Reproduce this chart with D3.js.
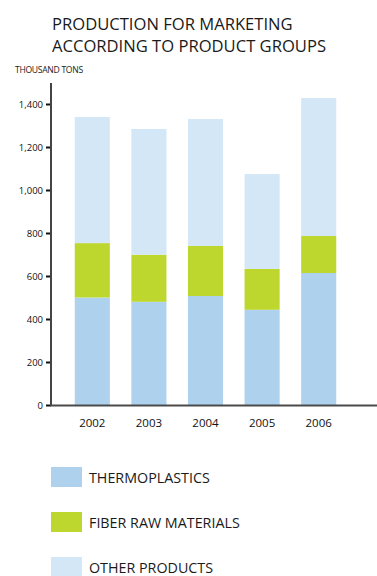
<!DOCTYPE html>
<html>
<head>
<meta charset="utf-8">
<script src="https://cdn.jsdelivr.net/npm/d3@7"></script>
<style>
  body { margin: 0; background: #fff; }
  svg { display: block; font-family: "Open Sans", "Noto Sans", sans-serif; }
</style>
</head>
<body>
<svg width="377" height="576"></svg>
<script>
const years = ["2002", "2003", "2004", "2005", "2006"];
const thermoplastics = [500, 480, 507, 443, 614];
const fiberRaw = [253, 219, 233, 190, 172];
const otherProducts = [587, 585, 590, 441, 642];
const yTicks = [0, 200, 400, 600, 800, 1000, 1200, 1400];

const seriesNames = ["THERMOPLASTICS", "FIBER RAW MATERIALS", "OTHER PRODUCTS"];
const colors = ["#aed1ee", "#bed72e", "#d4e7f6"];

const svg = d3.select("svg");

// title
svg.append("text").attr("x", 52).attr("y", 30)
  .attr("font-size", 16.6).attr("fill", "#1a1a1a")
  .text("PRODUCTION FOR MARKETING");
svg.append("text").attr("x", 52).attr("y", 52)
  .attr("font-size", 16.6).attr("fill", "#1a1a1a")
  .text("ACCORDING TO PRODUCT GROUPS");

svg.append("text").attr("x", 15).attr("y", 73)
  .attr("font-size", 8.6).attr("letter-spacing", -0.3).attr("fill", "#1a1a1a")
  .text("THOUSAND TONS");

const x = d3.scaleBand().domain(years).range([64, 347]).paddingInner(0.38).paddingOuter(0.19);
const y = d3.scaleLinear().domain([0, 1400]).range([405, 104]);

const rows = years.map((yr, i) => ({
  year: yr,
  thermo: thermoplastics[i],
  fiber: fiberRaw[i],
  other: otherProducts[i]
}));
const stack = d3.stack().keys(["thermo", "fiber", "other"])(rows);

svg.append("g").selectAll("g")
  .data(stack)
  .join("g")
  .attr("fill", (d, i) => colors[i])
  .selectAll("rect")
  .data(d => d)
  .join("rect")
  .attr("x", d => x(d.data.year))
  .attr("width", x.bandwidth())
  .attr("y", d => y(d[1]))
  .attr("height", d => y(d[0]) - y(d[1]));

// y axis
const yAxis = svg.append("g")
  .attr("transform", "translate(51,0)")
  .call(d3.axisLeft(y).tickValues(yTicks).tickSize(5).tickPadding(3)
    .tickFormat(d3.format(",")));
yAxis.select(".domain").remove();
yAxis.selectAll(".tick line").attr("stroke", "#111").attr("stroke-width", 2);
yAxis.selectAll(".tick text").attr("font-size", 9.5).attr("fill", "#111")
  .attr("font-family", "'Open Sans', sans-serif");

svg.append("line").attr("x1", 51).attr("x2", 51).attr("y1", 83).attr("y2", 406)
  .attr("stroke", "#444").attr("stroke-width", 2);
svg.append("line").attr("x1", 50).attr("x2", 377).attr("y1", 405.5).attr("y2", 405.5)
  .attr("stroke", "#4a4a4a").attr("stroke-width", 2);

// x labels
svg.append("g").selectAll("text")
  .data(years)
  .join("text")
  .attr("x", d => x(d) + x.bandwidth() / 2)
  .attr("y", 427)
  .attr("text-anchor", "middle")
  .attr("font-size", 11.5)
  .attr("fill", "#111")
  .text(d => d);

// legend
const legend = svg.append("g").selectAll("g")
  .data(seriesNames)
  .join("g")
  .attr("transform", (d, i) => `translate(51,${467 + i * 45})`);
legend.append("rect").attr("width", 31).attr("height", 20)
  .attr("fill", (d, i) => colors[i]);
legend.append("text").attr("x", 38).attr("y", 15.5)
  .attr("font-size", 14.3).attr("fill", "#1a1a1a")
  .text(d => d);
</script>
</body>
</html>
